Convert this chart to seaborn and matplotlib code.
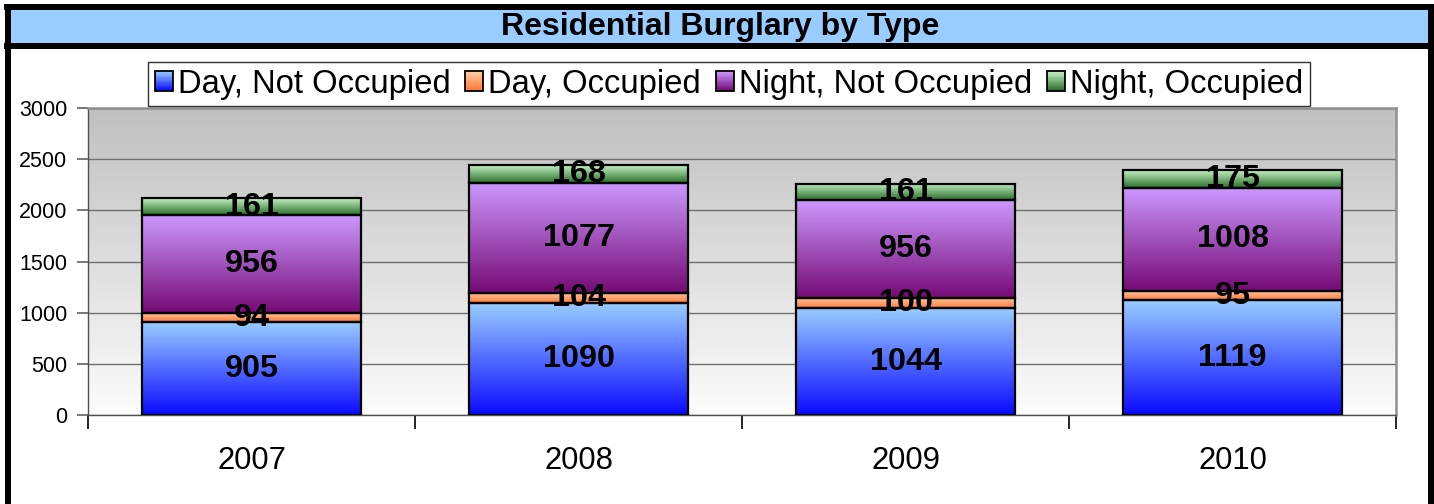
import numpy as np
import pandas as pd
import matplotlib
matplotlib.use("Agg")
import matplotlib.pyplot as plt
import seaborn as sns
from matplotlib.patches import Rectangle
from matplotlib.lines import Line2D
from matplotlib.colors import LinearSegmentedColormap, to_rgb
from matplotlib.legend_handler import HandlerBase

# --- Data ---
years = ["2007", "2008", "2009", "2010"]
day_not_occupied = [905, 1090, 1044, 1119]
day_occupied = [94, 104, 100, 95]
night_not_occupied = [956, 1077, 956, 1008]
night_occupied = [161, 168, 161, 175]

series_names = ["Day, Not Occupied", "Day, Occupied", "Night, Not Occupied", "Night, Occupied"]
series_values = [day_not_occupied, day_occupied, night_not_occupied, night_occupied]
# (top colour, bottom colour) of each gradient
series_grad = [("#99CCFF", "#0A0AFF"),
               ("#FFCCA8", "#FF7A3A"),
               ("#CC99FF", "#760A76"),
               ("#C4F2C4", "#2A6E2A")]

W, H = 1434, 504
sns.set_theme(style="white")
plt.rcParams["font.family"] = ["Liberation Sans", "DejaVu Sans"]
plt.rcParams["text.color"] = "black"
plt.rcParams["xtick.color"] = "black"
plt.rcParams["ytick.color"] = "black"
plt.rcParams["xtick.bottom"] = True
plt.rcParams["ytick.left"] = True

fig = plt.figure(figsize=(W / 100, H / 100), dpi=100)
fig.patch.set_facecolor("white")
ax = fig.add_axes([88 / W, 1 - 415 / H, (1396 - 88) / W, (415 - 108) / H])

bottoms = np.zeros(len(years))
for name, vals, (top, bot) in zip(series_names, series_values, series_grad):
    df = pd.DataFrame({"year": years, "count": vals})
    n_before = len(ax.containers)
    sns.barplot(data=df, x="year", y="count", order=years, bottom=bottoms.copy(),
                width=0.667, color=top, edgecolor="black", linewidth=1.6,
                errorbar=None, ax=ax)
    cont = ax.containers[n_before]
    cmap = LinearSegmentedColormap.from_list(name, [bot, top])
    grad = np.linspace(0, 1, 256).reshape(-1, 1)
    for p, v in zip(cont.patches, vals):
        x0, w, y0, h = p.get_x(), p.get_width(), p.get_y(), p.get_height()
        p.set_facecolor("none")
        p.set_zorder(3)
        ax.imshow(grad, extent=[x0, x0 + w, y0, y0 + h], origin="lower",
                  aspect="auto", cmap=cmap, zorder=2)
        ax.text(x0 + w / 2, y0 + h / 2, str(v), ha="center", va="center",
                fontsize=23.3, fontweight="bold", color="black", zorder=5)
    bottoms += np.array(vals)

# plot-area background gradient
bg_cmap = LinearSegmentedColormap.from_list("bg", ["#FCFCFC", "#C0C0C0"])
ax.imshow(np.linspace(0, 1, 256).reshape(-1, 1), extent=[-0.5, 3.5, 0, 3000],
          origin="lower", aspect="auto", cmap=bg_cmap, zorder=0)

ax.set_xlim(-0.5, 3.5)
ax.set_ylim(0, 3000)
ax.set_yticks(np.arange(0, 3001, 500))
ax.set_yticklabels([str(t) for t in range(0, 3001, 500)], fontsize=15.5)
ax.set_xticks(range(len(years)))
ax.set_xticklabels(years, fontsize=22.3)
ax.set_xticks(np.arange(-0.5, len(years), 1), minor=True)
ax.tick_params(axis="x", which="major", length=0, pad=22)
ax.tick_params(axis="x", which="minor", bottom=True, length=10, width=1.2,
               color="black", direction="out")
ax.tick_params(axis="y", which="major", left=True, length=8, width=1.2,
               color="#606060", direction="out", pad=7)
ax.yaxis.grid(True, color="#707070", linewidth=1)
ax.xaxis.grid(False)
ax.set_axisbelow(True)
ax.set_xlabel("")
ax.set_ylabel("")
for side in ["top", "right"]:
    ax.spines[side].set_color("#909090")
    ax.spines[side].set_linewidth(1.8)
for side in ["left", "bottom"]:
    ax.spines[side].set_color("#505050")
    ax.spines[side].set_linewidth(1)


class GradientHandler(HandlerBase):
    def __init__(self, top, bot):
        super().__init__()
        self.top = np.array(to_rgb(top))
        self.bot = np.array(to_rgb(bot))

    def create_artists(self, legend, orig_handle, xdescent, ydescent, width, height, fontsize, trans):
        arts = []
        n = 16
        for i in range(n):
            f = i / (n - 1)
            c = self.bot * (1 - f) + self.top * f
            arts.append(Rectangle((-xdescent, -ydescent + i * height / n), width, height / n + 0.3,
                                  facecolor=c, edgecolor="none", transform=trans))
        arts.append(Rectangle((-xdescent, -ydescent), width, height, facecolor="none",
                              edgecolor="black", linewidth=1.3, transform=trans))
        return arts


handles = [Rectangle((0, 0), 1, 1) for _ in series_names]
handler_map = {h: GradientHandler(t, b) for h, (t, b) in zip(handles, series_grad)}
leg = fig.legend(handles, series_names, loc="center", bbox_to_anchor=(729 / W, 1 - 84 / H),
                 ncol=4, fontsize=23.6, frameon=True, fancybox=False, handler_map=handler_map,
                 handlelength=0.55, handleheight=0.55, handletextpad=0.15,
                 columnspacing=0.45, borderpad=0.2, borderaxespad=0)
leg.get_frame().set_edgecolor("black")
leg.get_frame().set_linewidth(1)
leg.get_frame().set_facecolor("white")

# title band and outer frame
fig.patches.append(Rectangle((10 / W, 1 - 43 / H), 1418 / W, 33 / H, facecolor="#99CCFF",
                             edgecolor="none", transform=fig.transFigure, zorder=0))
lw = 6 * 0.72
frame = [([7.5 / W, 7.5 / W], [-0.1, 1 - 7 / H]),
         ([1430.5 / W, 1430.5 / W], [-0.1, 1 - 7 / H]),
         ([4 / W, 1434 / W], [1 - 7 / H, 1 - 7 / H]),
         ([4 / W, 1434 / W], [1 - 45.8 / H, 1 - 45.8 / H])]
for xs, ys in frame:
    fig.lines.append(Line2D(xs, ys, color="black", linewidth=lw, transform=fig.transFigure,
                            solid_capstyle="butt"))
fig.text(720 / W, 1 - 27.5 / H, "Residential Burglary by Type", ha="center", va="center",
         fontsize=23, fontweight="bold")

fig.savefig("out.png", dpi=100)
